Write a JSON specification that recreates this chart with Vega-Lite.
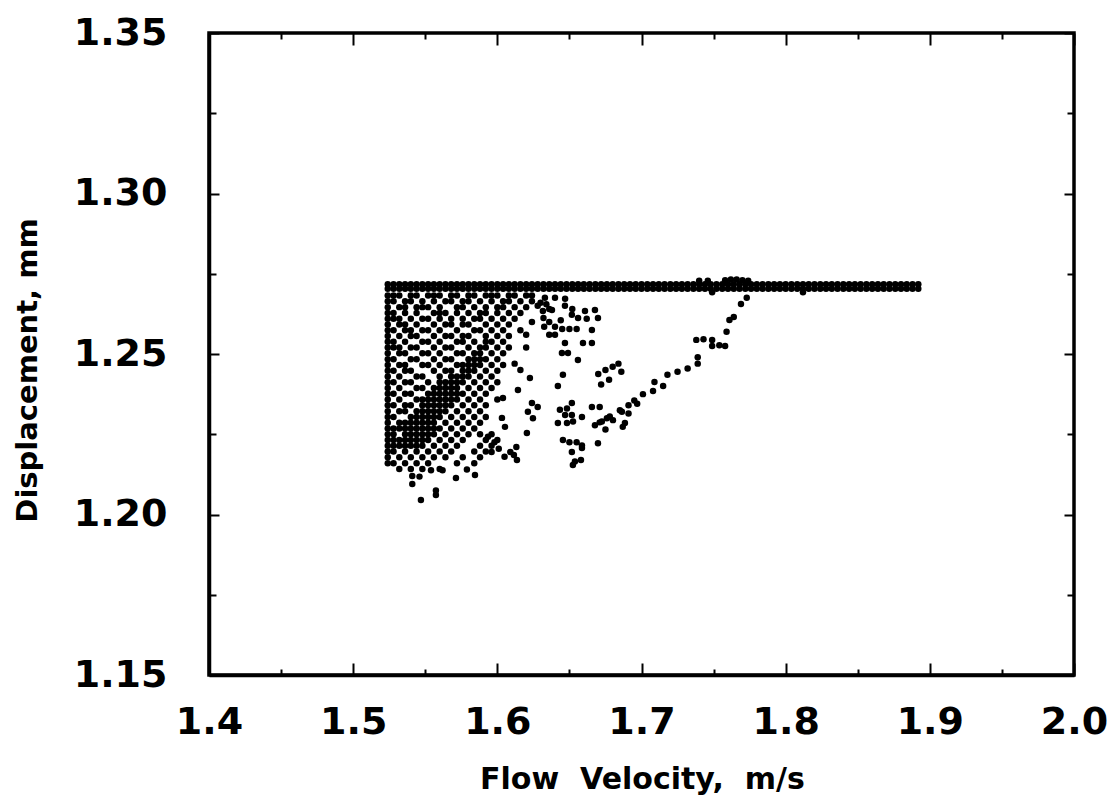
{
"$schema": "https://vega.github.io/schema/vega-lite/v6.json",
"width": 865, "height": 642,
"autosize": {"type": "none"},
"padding": {"left": 209, "top": 33, "right": 41, "bottom": 126},
"background": "white",
"config": {"view": {"stroke": "black", "strokeWidth": 3.5}, "axis": {"grid": false, "labelFlush": false, "labelOverlap": false, "labelBound": false}},
"data": {"values": [
{"vel":1.524,"disp":1.2717},{"vel":1.528,"disp":1.2717},{"vel":1.532,"disp":1.2717},{"vel":1.536,"disp":1.2717},{"vel":1.540,"disp":1.2717},{"vel":1.544,"disp":1.2717},{"vel":1.548,"disp":1.2717},{"vel":1.552,"disp":1.2717},{"vel":1.556,"disp":1.2717},{"vel":1.560,"disp":1.2717},{"vel":1.564,"disp":1.2717},{"vel":1.568,"disp":1.2717},{"vel":1.572,"disp":1.2717},{"vel":1.576,"disp":1.2717},{"vel":1.580,"disp":1.2717},{"vel":1.584,"disp":1.2717},{"vel":1.588,"disp":1.2717},{"vel":1.592,"disp":1.2717},{"vel":1.596,"disp":1.2717},{"vel":1.600,"disp":1.2717},{"vel":1.604,"disp":1.2717},{"vel":1.608,"disp":1.2717},{"vel":1.612,"disp":1.2717},{"vel":1.616,"disp":1.2717},{"vel":1.620,"disp":1.2717},{"vel":1.624,"disp":1.2717},{"vel":1.628,"disp":1.2717},{"vel":1.632,"disp":1.2717},{"vel":1.636,"disp":1.2717},{"vel":1.640,"disp":1.2717},{"vel":1.644,"disp":1.2717},{"vel":1.648,"disp":1.2717},{"vel":1.652,"disp":1.2717},{"vel":1.656,"disp":1.2717},{"vel":1.660,"disp":1.2717},{"vel":1.664,"disp":1.2717},{"vel":1.668,"disp":1.2717},{"vel":1.672,"disp":1.2717},{"vel":1.676,"disp":1.2717},{"vel":1.680,"disp":1.2717},{"vel":1.684,"disp":1.2717},{"vel":1.688,"disp":1.2717},{"vel":1.692,"disp":1.2717},{"vel":1.696,"disp":1.2717},{"vel":1.700,"disp":1.2717},{"vel":1.704,"disp":1.2717},{"vel":1.708,"disp":1.2717},{"vel":1.712,"disp":1.2717},{"vel":1.716,"disp":1.2717},{"vel":1.720,"disp":1.2717},{"vel":1.724,"disp":1.2717},{"vel":1.728,"disp":1.2717},{"vel":1.732,"disp":1.2717},{"vel":1.736,"disp":1.2717},{"vel":1.740,"disp":1.2717},{"vel":1.744,"disp":1.2717},{"vel":1.748,"disp":1.2717},{"vel":1.752,"disp":1.2717},{"vel":1.756,"disp":1.2717},{"vel":1.760,"disp":1.2717},{"vel":1.764,"disp":1.2717},{"vel":1.768,"disp":1.2717},{"vel":1.772,"disp":1.2717},{"vel":1.776,"disp":1.2717},{"vel":1.780,"disp":1.2717},{"vel":1.784,"disp":1.2717},{"vel":1.788,"disp":1.2717},{"vel":1.792,"disp":1.2717},{"vel":1.796,"disp":1.2717},{"vel":1.800,"disp":1.2717},{"vel":1.804,"disp":1.2717},{"vel":1.808,"disp":1.2717},{"vel":1.812,"disp":1.2717},{"vel":1.816,"disp":1.2717},{"vel":1.820,"disp":1.2717},{"vel":1.824,"disp":1.2717},{"vel":1.828,"disp":1.2717},{"vel":1.832,"disp":1.2717},{"vel":1.836,"disp":1.2717},{"vel":1.840,"disp":1.2717},{"vel":1.844,"disp":1.2717},{"vel":1.848,"disp":1.2717},{"vel":1.852,"disp":1.2717},{"vel":1.856,"disp":1.2717},{"vel":1.860,"disp":1.2717},{"vel":1.864,"disp":1.2717},{"vel":1.868,"disp":1.2717},{"vel":1.872,"disp":1.2717},{"vel":1.876,"disp":1.2717},{"vel":1.880,"disp":1.2717},{"vel":1.884,"disp":1.2717},{"vel":1.888,"disp":1.2717},{"vel":1.892,"disp":1.2717},
{"vel":1.524,"disp":1.2703},{"vel":1.528,"disp":1.2703},{"vel":1.532,"disp":1.2703},{"vel":1.536,"disp":1.2703},{"vel":1.540,"disp":1.2703},{"vel":1.544,"disp":1.2703},{"vel":1.548,"disp":1.2703},{"vel":1.552,"disp":1.2703},{"vel":1.556,"disp":1.2703},{"vel":1.560,"disp":1.2703},{"vel":1.564,"disp":1.2703},{"vel":1.568,"disp":1.2703},{"vel":1.572,"disp":1.2703},{"vel":1.576,"disp":1.2703},{"vel":1.580,"disp":1.2703},{"vel":1.584,"disp":1.2703},{"vel":1.588,"disp":1.2703},{"vel":1.592,"disp":1.2703},{"vel":1.596,"disp":1.2703},{"vel":1.600,"disp":1.2703},{"vel":1.604,"disp":1.2703},{"vel":1.608,"disp":1.2703},{"vel":1.612,"disp":1.2703},{"vel":1.616,"disp":1.2703},{"vel":1.620,"disp":1.2703},{"vel":1.624,"disp":1.2703},{"vel":1.628,"disp":1.2703},{"vel":1.632,"disp":1.2703},{"vel":1.636,"disp":1.2703},{"vel":1.640,"disp":1.2703},{"vel":1.644,"disp":1.2703},{"vel":1.648,"disp":1.2703},{"vel":1.652,"disp":1.2703},{"vel":1.656,"disp":1.2703},{"vel":1.660,"disp":1.2703},{"vel":1.664,"disp":1.2703},{"vel":1.668,"disp":1.2703},{"vel":1.672,"disp":1.2703},{"vel":1.676,"disp":1.2703},{"vel":1.680,"disp":1.2703},{"vel":1.684,"disp":1.2703},{"vel":1.688,"disp":1.2703},{"vel":1.692,"disp":1.2703},{"vel":1.696,"disp":1.2703},{"vel":1.700,"disp":1.2703},{"vel":1.704,"disp":1.2703},{"vel":1.708,"disp":1.2703},{"vel":1.712,"disp":1.2703},{"vel":1.716,"disp":1.2703},{"vel":1.720,"disp":1.2703},{"vel":1.724,"disp":1.2703},{"vel":1.728,"disp":1.2703},{"vel":1.732,"disp":1.2703},{"vel":1.736,"disp":1.2703},{"vel":1.740,"disp":1.2703},{"vel":1.744,"disp":1.2703},{"vel":1.748,"disp":1.2703},{"vel":1.752,"disp":1.2703},{"vel":1.756,"disp":1.2703},{"vel":1.760,"disp":1.2703},{"vel":1.764,"disp":1.2703},{"vel":1.768,"disp":1.2703},{"vel":1.772,"disp":1.2703},{"vel":1.776,"disp":1.2703},{"vel":1.780,"disp":1.2703},{"vel":1.784,"disp":1.2703},{"vel":1.788,"disp":1.2703},{"vel":1.792,"disp":1.2703},{"vel":1.796,"disp":1.2703},{"vel":1.800,"disp":1.2703},{"vel":1.804,"disp":1.2703},{"vel":1.808,"disp":1.2703},{"vel":1.812,"disp":1.2703},{"vel":1.816,"disp":1.2703},{"vel":1.820,"disp":1.2703},{"vel":1.824,"disp":1.2703},{"vel":1.828,"disp":1.2703},{"vel":1.832,"disp":1.2703},{"vel":1.836,"disp":1.2703},{"vel":1.840,"disp":1.2703},{"vel":1.844,"disp":1.2703},{"vel":1.848,"disp":1.2703},{"vel":1.852,"disp":1.2703},{"vel":1.856,"disp":1.2703},{"vel":1.860,"disp":1.2703},{"vel":1.864,"disp":1.2703},{"vel":1.868,"disp":1.2703},{"vel":1.872,"disp":1.2703},{"vel":1.876,"disp":1.2703},{"vel":1.880,"disp":1.2703},{"vel":1.884,"disp":1.2703},{"vel":1.888,"disp":1.2703},{"vel":1.892,"disp":1.2703},
{"vel":1.740,"disp":1.2728},{"vel":1.746,"disp":1.2728},{"vel":1.758,"disp":1.2730},{"vel":1.762,"disp":1.2732},{"vel":1.766,"disp":1.2732},{"vel":1.770,"disp":1.2730},{"vel":1.774,"disp":1.2728},{"vel":1.749,"disp":1.2692},{"vel":1.812,"disp":1.2692},
{"vel":1.524,"disp":1.2682},{"vel":1.528,"disp":1.2682},{"vel":1.532,"disp":1.2682},{"vel":1.540,"disp":1.2682},{"vel":1.544,"disp":1.2682},{"vel":1.552,"disp":1.2682},{"vel":1.556,"disp":1.2682},{"vel":1.560,"disp":1.2682},{"vel":1.568,"disp":1.2682},{"vel":1.572,"disp":1.2682},{"vel":1.580,"disp":1.2682},{"vel":1.584,"disp":1.2682},{"vel":1.592,"disp":1.2682},{"vel":1.596,"disp":1.2682},{"vel":1.600,"disp":1.2682},{"vel":1.608,"disp":1.2682},{"vel":1.612,"disp":1.2682},{"vel":1.620,"disp":1.2682},{"vel":1.624,"disp":1.2682},
{"vel":1.524,"disp":1.2664},{"vel":1.528,"disp":1.2664},{"vel":1.536,"disp":1.2664},{"vel":1.540,"disp":1.2664},{"vel":1.548,"disp":1.2664},{"vel":1.556,"disp":1.2664},{"vel":1.564,"disp":1.2664},{"vel":1.568,"disp":1.2664},{"vel":1.576,"disp":1.2664},{"vel":1.580,"disp":1.2664},{"vel":1.588,"disp":1.2664},{"vel":1.596,"disp":1.2664},{"vel":1.604,"disp":1.2664},{"vel":1.608,"disp":1.2664},{"vel":1.616,"disp":1.2664},{"vel":1.624,"disp":1.2664},
{"vel":1.524,"disp":1.2646},{"vel":1.532,"disp":1.2646},{"vel":1.536,"disp":1.2646},{"vel":1.544,"disp":1.2646},{"vel":1.548,"disp":1.2646},{"vel":1.552,"disp":1.2646},{"vel":1.560,"disp":1.2646},{"vel":1.572,"disp":1.2646},{"vel":1.576,"disp":1.2646},{"vel":1.584,"disp":1.2646},{"vel":1.592,"disp":1.2646},{"vel":1.600,"disp":1.2646},{"vel":1.604,"disp":1.2646},{"vel":1.612,"disp":1.2646},{"vel":1.620,"disp":1.2646},
{"vel":1.524,"disp":1.2628},{"vel":1.528,"disp":1.2628},{"vel":1.536,"disp":1.2628},{"vel":1.544,"disp":1.2628},{"vel":1.556,"disp":1.2628},{"vel":1.560,"disp":1.2628},{"vel":1.564,"disp":1.2628},{"vel":1.572,"disp":1.2628},{"vel":1.580,"disp":1.2628},{"vel":1.588,"disp":1.2628},{"vel":1.592,"disp":1.2628},{"vel":1.600,"disp":1.2628},{"vel":1.608,"disp":1.2628},{"vel":1.616,"disp":1.2628},
{"vel":1.524,"disp":1.2610},{"vel":1.528,"disp":1.2610},{"vel":1.532,"disp":1.2610},{"vel":1.540,"disp":1.2610},{"vel":1.548,"disp":1.2610},{"vel":1.552,"disp":1.2610},{"vel":1.560,"disp":1.2610},{"vel":1.568,"disp":1.2610},{"vel":1.576,"disp":1.2610},{"vel":1.584,"disp":1.2610},{"vel":1.588,"disp":1.2610},{"vel":1.596,"disp":1.2610},{"vel":1.604,"disp":1.2610},{"vel":1.612,"disp":1.2610},
{"vel":1.524,"disp":1.2592},{"vel":1.532,"disp":1.2592},{"vel":1.536,"disp":1.2592},{"vel":1.544,"disp":1.2592},{"vel":1.556,"disp":1.2592},{"vel":1.564,"disp":1.2592},{"vel":1.568,"disp":1.2592},{"vel":1.576,"disp":1.2592},{"vel":1.580,"disp":1.2592},{"vel":1.592,"disp":1.2592},{"vel":1.600,"disp":1.2592},{"vel":1.608,"disp":1.2592},
{"vel":1.524,"disp":1.2574},{"vel":1.528,"disp":1.2574},{"vel":1.536,"disp":1.2574},{"vel":1.540,"disp":1.2574},{"vel":1.548,"disp":1.2574},{"vel":1.552,"disp":1.2574},{"vel":1.560,"disp":1.2574},{"vel":1.572,"disp":1.2574},{"vel":1.584,"disp":1.2574},{"vel":1.588,"disp":1.2574},{"vel":1.596,"disp":1.2574},{"vel":1.604,"disp":1.2574},{"vel":1.616,"disp":1.2574},
{"vel":1.524,"disp":1.2556},{"vel":1.532,"disp":1.2556},{"vel":1.540,"disp":1.2556},{"vel":1.544,"disp":1.2556},{"vel":1.556,"disp":1.2556},{"vel":1.564,"disp":1.2556},{"vel":1.568,"disp":1.2556},{"vel":1.576,"disp":1.2556},{"vel":1.580,"disp":1.2556},{"vel":1.592,"disp":1.2556},{"vel":1.600,"disp":1.2556},{"vel":1.608,"disp":1.2556},
{"vel":1.524,"disp":1.2538},{"vel":1.528,"disp":1.2538},{"vel":1.536,"disp":1.2538},{"vel":1.548,"disp":1.2538},{"vel":1.552,"disp":1.2538},{"vel":1.560,"disp":1.2538},{"vel":1.572,"disp":1.2538},{"vel":1.576,"disp":1.2538},{"vel":1.584,"disp":1.2538},{"vel":1.592,"disp":1.2538},{"vel":1.596,"disp":1.2538},{"vel":1.604,"disp":1.2538},
{"vel":1.524,"disp":1.2520},{"vel":1.528,"disp":1.2520},{"vel":1.532,"disp":1.2520},{"vel":1.540,"disp":1.2520},{"vel":1.544,"disp":1.2520},{"vel":1.556,"disp":1.2520},{"vel":1.564,"disp":1.2520},{"vel":1.568,"disp":1.2520},{"vel":1.580,"disp":1.2520},{"vel":1.588,"disp":1.2520},{"vel":1.592,"disp":1.2520},{"vel":1.600,"disp":1.2520},{"vel":1.608,"disp":1.2520},
{"vel":1.524,"disp":1.2502},{"vel":1.532,"disp":1.2502},{"vel":1.536,"disp":1.2502},{"vel":1.548,"disp":1.2502},{"vel":1.552,"disp":1.2502},{"vel":1.560,"disp":1.2502},{"vel":1.572,"disp":1.2502},{"vel":1.576,"disp":1.2502},{"vel":1.584,"disp":1.2502},{"vel":1.588,"disp":1.2502},{"vel":1.596,"disp":1.2502},{"vel":1.604,"disp":1.2502},
{"vel":1.524,"disp":1.2484},{"vel":1.528,"disp":1.2484},{"vel":1.540,"disp":1.2484},{"vel":1.544,"disp":1.2484},{"vel":1.556,"disp":1.2484},{"vel":1.564,"disp":1.2484},{"vel":1.568,"disp":1.2484},{"vel":1.580,"disp":1.2484},{"vel":1.584,"disp":1.2484},{"vel":1.588,"disp":1.2484},{"vel":1.592,"disp":1.2484},{"vel":1.600,"disp":1.2484},
{"vel":1.524,"disp":1.2466},{"vel":1.532,"disp":1.2466},{"vel":1.536,"disp":1.2466},{"vel":1.548,"disp":1.2466},{"vel":1.552,"disp":1.2466},{"vel":1.560,"disp":1.2466},{"vel":1.572,"disp":1.2466},{"vel":1.576,"disp":1.2466},{"vel":1.580,"disp":1.2466},{"vel":1.584,"disp":1.2466},{"vel":1.588,"disp":1.2466},{"vel":1.596,"disp":1.2466},{"vel":1.604,"disp":1.2466},
{"vel":1.524,"disp":1.2448},{"vel":1.528,"disp":1.2448},{"vel":1.536,"disp":1.2448},{"vel":1.540,"disp":1.2448},{"vel":1.556,"disp":1.2448},{"vel":1.564,"disp":1.2448},{"vel":1.568,"disp":1.2448},{"vel":1.576,"disp":1.2448},{"vel":1.580,"disp":1.2448},{"vel":1.584,"disp":1.2448},{"vel":1.592,"disp":1.2448},{"vel":1.600,"disp":1.2448},
{"vel":1.524,"disp":1.2430},{"vel":1.532,"disp":1.2430},{"vel":1.544,"disp":1.2430},{"vel":1.548,"disp":1.2430},{"vel":1.560,"disp":1.2430},{"vel":1.568,"disp":1.2430},{"vel":1.572,"disp":1.2430},{"vel":1.576,"disp":1.2430},{"vel":1.580,"disp":1.2430},{"vel":1.588,"disp":1.2430},{"vel":1.596,"disp":1.2430},
{"vel":1.524,"disp":1.2412},{"vel":1.528,"disp":1.2412},{"vel":1.536,"disp":1.2412},{"vel":1.540,"disp":1.2412},{"vel":1.552,"disp":1.2412},{"vel":1.560,"disp":1.2412},{"vel":1.564,"disp":1.2412},{"vel":1.568,"disp":1.2412},{"vel":1.572,"disp":1.2412},{"vel":1.576,"disp":1.2412},{"vel":1.584,"disp":1.2412},{"vel":1.592,"disp":1.2412},{"vel":1.600,"disp":1.2412},
{"vel":1.524,"disp":1.2394},{"vel":1.532,"disp":1.2394},{"vel":1.544,"disp":1.2394},{"vel":1.548,"disp":1.2394},{"vel":1.556,"disp":1.2394},{"vel":1.560,"disp":1.2394},{"vel":1.564,"disp":1.2394},{"vel":1.568,"disp":1.2394},{"vel":1.572,"disp":1.2394},{"vel":1.580,"disp":1.2394},{"vel":1.588,"disp":1.2394},{"vel":1.596,"disp":1.2394},
{"vel":1.524,"disp":1.2376},{"vel":1.528,"disp":1.2376},{"vel":1.536,"disp":1.2376},{"vel":1.540,"disp":1.2376},{"vel":1.552,"disp":1.2376},{"vel":1.556,"disp":1.2376},{"vel":1.560,"disp":1.2376},{"vel":1.564,"disp":1.2376},{"vel":1.568,"disp":1.2376},{"vel":1.572,"disp":1.2376},{"vel":1.576,"disp":1.2376},{"vel":1.584,"disp":1.2376},{"vel":1.592,"disp":1.2376},
{"vel":1.524,"disp":1.2358},{"vel":1.532,"disp":1.2358},{"vel":1.544,"disp":1.2358},{"vel":1.548,"disp":1.2358},{"vel":1.552,"disp":1.2358},{"vel":1.556,"disp":1.2358},{"vel":1.560,"disp":1.2358},{"vel":1.564,"disp":1.2358},{"vel":1.568,"disp":1.2358},{"vel":1.572,"disp":1.2358},{"vel":1.580,"disp":1.2358},{"vel":1.588,"disp":1.2358},{"vel":1.600,"disp":1.2358},
{"vel":1.524,"disp":1.2340},{"vel":1.528,"disp":1.2340},{"vel":1.536,"disp":1.2340},{"vel":1.540,"disp":1.2340},{"vel":1.548,"disp":1.2340},{"vel":1.552,"disp":1.2340},{"vel":1.556,"disp":1.2340},{"vel":1.560,"disp":1.2340},{"vel":1.564,"disp":1.2340},{"vel":1.568,"disp":1.2340},{"vel":1.576,"disp":1.2340},{"vel":1.584,"disp":1.2340},{"vel":1.592,"disp":1.2340},
{"vel":1.524,"disp":1.2322},{"vel":1.532,"disp":1.2322},{"vel":1.536,"disp":1.2322},{"vel":1.544,"disp":1.2322},{"vel":1.548,"disp":1.2322},{"vel":1.552,"disp":1.2322},{"vel":1.556,"disp":1.2322},{"vel":1.560,"disp":1.2322},{"vel":1.564,"disp":1.2322},{"vel":1.572,"disp":1.2322},{"vel":1.580,"disp":1.2322},{"vel":1.588,"disp":1.2322},
{"vel":1.524,"disp":1.2304},{"vel":1.528,"disp":1.2304},{"vel":1.540,"disp":1.2304},{"vel":1.544,"disp":1.2304},{"vel":1.548,"disp":1.2304},{"vel":1.552,"disp":1.2304},{"vel":1.556,"disp":1.2304},{"vel":1.560,"disp":1.2304},{"vel":1.568,"disp":1.2304},{"vel":1.576,"disp":1.2304},{"vel":1.584,"disp":1.2304},{"vel":1.592,"disp":1.2304},
{"vel":1.524,"disp":1.2286},{"vel":1.532,"disp":1.2286},{"vel":1.536,"disp":1.2286},{"vel":1.540,"disp":1.2286},{"vel":1.544,"disp":1.2286},{"vel":1.548,"disp":1.2286},{"vel":1.552,"disp":1.2286},{"vel":1.556,"disp":1.2286},{"vel":1.564,"disp":1.2286},{"vel":1.572,"disp":1.2286},{"vel":1.580,"disp":1.2286},{"vel":1.588,"disp":1.2286},
{"vel":1.524,"disp":1.2268},{"vel":1.528,"disp":1.2268},{"vel":1.532,"disp":1.2268},{"vel":1.536,"disp":1.2268},{"vel":1.540,"disp":1.2268},{"vel":1.544,"disp":1.2268},{"vel":1.548,"disp":1.2268},{"vel":1.552,"disp":1.2268},{"vel":1.556,"disp":1.2268},{"vel":1.560,"disp":1.2268},{"vel":1.568,"disp":1.2268},{"vel":1.576,"disp":1.2268},{"vel":1.584,"disp":1.2268},
{"vel":1.524,"disp":1.2250},{"vel":1.528,"disp":1.2250},{"vel":1.536,"disp":1.2250},{"vel":1.540,"disp":1.2250},{"vel":1.544,"disp":1.2250},{"vel":1.548,"disp":1.2250},{"vel":1.552,"disp":1.2250},{"vel":1.556,"disp":1.2250},{"vel":1.564,"disp":1.2250},{"vel":1.572,"disp":1.2250},{"vel":1.580,"disp":1.2250},{"vel":1.588,"disp":1.2250},{"vel":1.596,"disp":1.2250},
{"vel":1.524,"disp":1.2232},{"vel":1.528,"disp":1.2232},{"vel":1.532,"disp":1.2232},{"vel":1.536,"disp":1.2232},{"vel":1.540,"disp":1.2232},{"vel":1.544,"disp":1.2232},{"vel":1.548,"disp":1.2232},{"vel":1.552,"disp":1.2232},{"vel":1.560,"disp":1.2232},{"vel":1.568,"disp":1.2232},{"vel":1.576,"disp":1.2232},{"vel":1.592,"disp":1.2232},{"vel":1.600,"disp":1.2232},
{"vel":1.524,"disp":1.2214},{"vel":1.528,"disp":1.2214},{"vel":1.532,"disp":1.2214},{"vel":1.536,"disp":1.2214},{"vel":1.540,"disp":1.2214},{"vel":1.544,"disp":1.2214},{"vel":1.548,"disp":1.2214},{"vel":1.556,"disp":1.2214},{"vel":1.564,"disp":1.2214},{"vel":1.572,"disp":1.2214},{"vel":1.588,"disp":1.2214},{"vel":1.596,"disp":1.2214},
{"vel":1.524,"disp":1.2196},{"vel":1.528,"disp":1.2196},{"vel":1.536,"disp":1.2196},{"vel":1.544,"disp":1.2196},{"vel":1.552,"disp":1.2196},{"vel":1.560,"disp":1.2196},{"vel":1.568,"disp":1.2196},{"vel":1.584,"disp":1.2196},{"vel":1.592,"disp":1.2196},
{"vel":1.524,"disp":1.2178},{"vel":1.532,"disp":1.2178},{"vel":1.540,"disp":1.2178},{"vel":1.548,"disp":1.2178},{"vel":1.556,"disp":1.2178},{"vel":1.564,"disp":1.2178},{"vel":1.576,"disp":1.2178},{"vel":1.588,"disp":1.2178},
{"vel":1.524,"disp":1.2160},{"vel":1.528,"disp":1.2160},{"vel":1.536,"disp":1.2160},{"vel":1.544,"disp":1.2160},{"vel":1.552,"disp":1.2160},{"vel":1.572,"disp":1.2160},{"vel":1.584,"disp":1.2160},
{"vel":1.532,"disp":1.2142},{"vel":1.540,"disp":1.2142},{"vel":1.548,"disp":1.2142},{"vel":1.560,"disp":1.2142},
{"vel":1.541,"disp":1.2120},{"vel":1.541,"disp":1.2095},{"vel":1.546,"disp":1.2118},{"vel":1.554,"disp":1.2138},{"vel":1.562,"disp":1.2138},{"vel":1.5713,"disp":1.2114},{"vel":1.5789,"disp":1.2140},{"vel":1.5845,"disp":1.2123},{"vel":1.547,"disp":1.2045},{"vel":1.5574,"disp":1.2061},{"vel":1.5574,"disp":1.2075},
{"vel":1.612,"disp":1.2470},{"vel":1.616,"disp":1.2450},{"vel":1.620,"disp":1.2560},{"vel":1.620,"disp":1.2520},{"vel":1.624,"disp":1.2600},{"vel":1.6226,"disp":1.2425},{"vel":1.6143,"disp":1.2388},{"vel":1.6039,"disp":1.2363},{"vel":1.624,"disp":1.2347},{"vel":1.6212,"disp":1.2320},{"vel":1.6247,"disp":1.2300},{"vel":1.628,"disp":1.2335},{"vel":1.6032,"disp":1.2301},{"vel":1.6053,"disp":1.2273},{"vel":1.6205,"disp":1.2254},{"vel":1.5935,"disp":1.2242},{"vel":1.598,"disp":1.2225},{"vel":1.601,"disp":1.2205},{"vel":1.596,"disp":1.2195},{"vel":1.6132,"disp":1.2210},{"vel":1.609,"disp":1.2195},{"vel":1.605,"disp":1.2180},{"vel":1.6136,"disp":1.2170},{"vel":1.6115,"disp":1.2185},
{"vel":1.6316,"disp":1.2634},{"vel":1.6379,"disp":1.2637},{"vel":1.6469,"disp":1.2650},{"vel":1.6517,"disp":1.2622},{"vel":1.6608,"disp":1.2634},{"vel":1.6677,"disp":1.2637},{"vel":1.6698,"disp":1.2612},{"vel":1.632,"disp":1.2612},{"vel":1.636,"disp":1.2600},{"vel":1.640,"disp":1.2585},{"vel":1.6325,"disp":1.2585},{"vel":1.644,"disp":1.2605},{"vel":1.645,"disp":1.2578},{"vel":1.650,"disp":1.2578},{"vel":1.655,"disp":1.2578},{"vel":1.6656,"disp":1.2575},{"vel":1.6469,"disp":1.2534},{"vel":1.6594,"disp":1.2534},{"vel":1.6656,"disp":1.2534},{"vel":1.6448,"disp":1.2503},{"vel":1.6490,"disp":1.2503},{"vel":1.6559,"disp":1.2481},{"vel":1.6455,"disp":1.2435},{"vel":1.642,"disp":1.2400},{"vel":1.633,"disp":1.2675},{"vel":1.640,"disp":1.2675},{"vel":1.647,"disp":1.2672},{"vel":1.628,"disp":1.2650},{"vel":1.630,"disp":1.2660},{"vel":1.634,"disp":1.2655},{"vel":1.636,"disp":1.2640},{"vel":1.652,"disp":1.2640},{"vel":1.656,"disp":1.2612},{"vel":1.662,"disp":1.2610},{"vel":1.640,"disp":1.2560},{"vel":1.636,"disp":1.2560},
{"vel":1.6517,"disp":1.2347},{"vel":1.6483,"disp":1.2330},{"vel":1.6434,"disp":1.2326},{"vel":1.647,"disp":1.2310},{"vel":1.6517,"disp":1.2310},{"vel":1.642,"disp":1.2285},{"vel":1.6483,"disp":1.2285},{"vel":1.6525,"disp":1.2290},{"vel":1.6587,"disp":1.2304},{"vel":1.6656,"disp":1.2335},{"vel":1.671,"disp":1.2335},{"vel":1.6677,"disp":1.2278},{"vel":1.6725,"disp":1.2290},{"vel":1.676,"disp":1.2300},{"vel":1.6802,"disp":1.2294},{"vel":1.6864,"disp":1.2320},{"vel":1.691,"disp":1.2315},{"vel":1.6885,"disp":1.2285},{"vel":1.6455,"disp":1.2232},{"vel":1.650,"disp":1.2225},{"vel":1.655,"disp":1.2225},{"vel":1.6587,"disp":1.2215},{"vel":1.6698,"disp":1.2222},{"vel":1.6587,"disp":1.2207},{"vel":1.6517,"disp":1.2195},{"vel":1.6538,"disp":1.2165},{"vel":1.658,"disp":1.2170},{"vel":1.6524,"disp":1.2154},
{"vel":1.670,"disp":1.2438},{"vel":1.675,"disp":1.2450},{"vel":1.680,"disp":1.2460},{"vel":1.684,"disp":1.2470},{"vel":1.6775,"disp":1.2420},{"vel":1.686,"disp":1.2445},{"vel":1.672,"disp":1.2405},
{"vel":1.671,"disp":1.2287},{"vel":1.678,"disp":1.2305},{"vel":1.675,"disp":1.2265},{"vel":1.685,"disp":1.2325},{"vel":1.691,"disp":1.2340},{"vel":1.697,"disp":1.2345},{"vel":1.687,"disp":1.2273},{"vel":1.695,"disp":1.2355},{"vel":1.701,"disp":1.2375},{"vel":1.708,"disp":1.2385},{"vel":1.715,"disp":1.2400},{"vel":1.709,"disp":1.2413},{"vel":1.718,"disp":1.2435},{"vel":1.725,"disp":1.2445},{"vel":1.732,"disp":1.2455},{"vel":1.739,"disp":1.2470},{"vel":1.739,"disp":1.2490},{"vel":1.738,"disp":1.2544},{"vel":1.743,"disp":1.2546},{"vel":1.749,"disp":1.2544},{"vel":1.749,"disp":1.2525},{"vel":1.754,"disp":1.2527},{"vel":1.758,"disp":1.2525},{"vel":1.759,"disp":1.2569},{"vel":1.761,"disp":1.2606},{"vel":1.764,"disp":1.2615},{"vel":1.769,"disp":1.2656},{"vel":1.773,"disp":1.2675}
]},
"layer": [
{"mark": {"type": "circle", "size": 42, "color": "black", "opacity": 1},
 "encoding": {
  "x": {"field": "vel", "type": "quantitative", "scale": {"domain": [1.4, 2.0], "nice": false, "zero": false},
        "axis": {"orient": "bottom", "values": [1.4,1.5,1.6,1.7,1.8,1.9,2.0], "format": ".1f", "tickSize": -12, "tickWidth": 2, "tickColor": "black", "domain": true, "domainColor": "black", "domainWidth": 3.5,
                 "labelFont": "DejaVu Sans", "labelFontWeight": "bold", "labelFontSize": 38, "labelColor": "black", "labelPadding": 70, "labelBaseline": "alphabetic",
                 "title": "Flow\u00a0 Velocity,\u00a0 m/s", "titleFont": "DejaVu Sans", "titleFontWeight": "bold", "titleFontSize": 30, "titleColor": "black", "titleBaseline": "alphabetic", "titleX": 433, "titleY": 113}},
  "y": {"field": "disp", "type": "quantitative", "scale": {"domain": [1.15, 1.35], "nice": false, "zero": false},
        "axis": {"orient": "left", "values": [1.15,1.2,1.25,1.3,1.35], "format": ".2f", "tickSize": -10, "tickWidth": 2, "tickColor": "black", "domain": true, "domainColor": "black", "domainWidth": 3.5,
                 "labelFont": "DejaVu Sans", "labelFontWeight": "bold", "labelFontSize": 38, "labelColor": "black", "labelPadding": 52, "labelAlign": "right", "labelBaseline": "middle",
                 "title": "Displacement, mm", "titleFont": "DejaVu Sans", "titleFontWeight": "bold", "titleFontSize": 29, "titleColor": "black", "titleAngle": -90, "titleBaseline": "alphabetic", "titleAlign": "center", "titleX": -173, "titleY": 337}}
 }},
{"mark": {"type": "point", "opacity": 0},
 "encoding": {
  "x": {"field": "vel", "type": "quantitative", "scale": {"domain": [1.4, 2.0], "nice": false, "zero": false},
        "axis": {"orient": "top", "values": [1.4,1.5,1.6,1.7,1.8,1.9,2.0], "tickSize": -12, "tickWidth": 2, "tickColor": "black", "domain": false, "labels": false, "title": null}},
  "y": {"field": "disp", "type": "quantitative", "scale": {"domain": [1.15, 1.35], "nice": false, "zero": false},
        "axis": {"orient": "right", "values": [1.15,1.2,1.25,1.3,1.35], "tickSize": -10, "tickWidth": 2, "tickColor": "black", "domain": false, "labels": false, "title": null}}
 }},
{"mark": {"type": "point", "opacity": 0},
 "encoding": {
  "x": {"field": "vel", "type": "quantitative", "scale": {"domain": [1.4, 2.0], "nice": false, "zero": false},
        "axis": {"orient": "bottom", "values": [1.45,1.55,1.65,1.75,1.85,1.95], "tickSize": -6, "tickWidth": 2, "tickColor": "black", "domain": false, "labels": false, "title": null}},
  "y": {"field": "disp", "type": "quantitative", "scale": {"domain": [1.15, 1.35], "nice": false, "zero": false},
        "axis": {"orient": "left", "values": [1.175,1.225,1.275,1.325], "tickSize": -7, "tickWidth": 2, "tickColor": "black", "domain": false, "labels": false, "title": null}}
 }},
{"mark": {"type": "point", "opacity": 0},
 "encoding": {
  "x": {"field": "vel", "type": "quantitative", "scale": {"domain": [1.4, 2.0], "nice": false, "zero": false},
        "axis": {"orient": "top", "values": [1.45,1.55,1.65,1.75,1.85,1.95], "tickSize": -6, "tickWidth": 2, "tickColor": "black", "domain": false, "labels": false, "title": null}},
  "y": {"field": "disp", "type": "quantitative", "scale": {"domain": [1.15, 1.35], "nice": false, "zero": false},
        "axis": {"orient": "right", "values": [1.175,1.225,1.275,1.325], "tickSize": -7, "tickWidth": 2, "tickColor": "black", "domain": false, "labels": false, "title": null}}
 }}
],
"resolve": {"axis": {"x": "independent", "y": "independent"}}
}
